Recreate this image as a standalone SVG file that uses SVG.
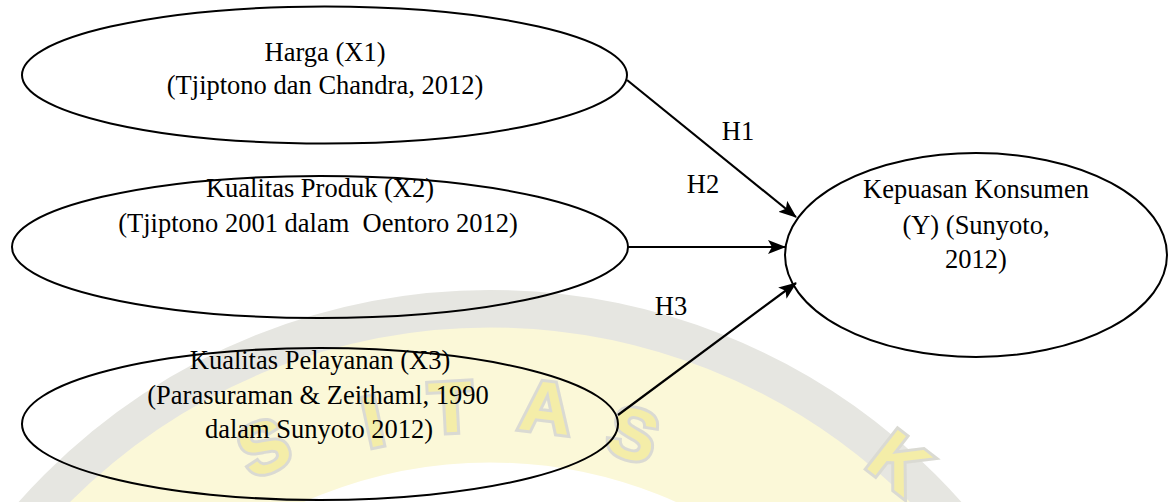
<svg xmlns="http://www.w3.org/2000/svg" width="1172" height="502" viewBox="0 0 1172 502">
  <defs>
    <style>
      .node { fill: none; stroke: #000; stroke-width: 2; }
      .lbl { font-family: "Liberation Serif", "Times New Roman", serif; font-size: 26.5px; fill: #000; text-anchor: middle; white-space: pre; }
      .edge { stroke: #000; stroke-width: 2.2; fill: none; marker-end: url(#arrow); }
      .wm { font-family: "Liberation Sans", Arial, sans-serif; font-weight: bold; font-size: 72px; fill: #f3ea9a; stroke: #d4d4cc; stroke-width: 6; paint-order: stroke; text-anchor: middle; }
    </style>
    <marker id="arrow" markerUnits="userSpaceOnUse" markerWidth="18" markerHeight="14" refX="17" refY="7" orient="auto">
      <path d="M0,0 L18,7 L0,14 L4,7 z" fill="#000"/>
    </marker>
  </defs>

  <g id="watermark" opacity="0.85">
    <circle cx="490" cy="920" r="610" fill="none" stroke="#e2e2dc" stroke-width="40"/>
    <circle cx="490" cy="920" r="525" fill="none" stroke="#fbf7d2" stroke-width="135"/>
    <text class="wm" transform="translate(274,470) rotate(-24)">S</text>
    <text class="wm" transform="translate(378,446) rotate(-12)">I</text>
    <text class="wm" transform="translate(452,432) rotate(-3)">T</text>
    <text class="wm" transform="translate(543,432) rotate(7)">A</text>
    <text class="wm" transform="translate(626,458) rotate(17)">S</text>
    <text class="wm" transform="translate(884,482) rotate(38)">K</text>
  </g>

  <g id="connectors">
    <line class="edge" x1="627" y1="80" x2="796" y2="217"/>
    <line class="edge" x1="628" y1="247" x2="785" y2="247"/>
    <line class="edge" x1="618" y1="415" x2="796" y2="283"/>
    <text class="lbl" x="738" y="140">H1</text>
    <text class="lbl" x="703" y="193">H2</text>
    <text class="lbl" x="671" y="315">H3</text>
  </g>

  <g id="node-x1">
    <ellipse class="node" cx="324.5" cy="75" rx="302.5" ry="68.5"/>
    <text class="lbl" x="325" y="61">Harga (X1)</text>
    <text class="lbl" x="325" y="94">(Tjiptono dan Chandra, 2012)</text>
  </g>

  <g id="node-x2">
    <ellipse class="node" cx="320" cy="247" rx="308" ry="71"/>
    <text class="lbl" x="320" y="197">Kualitas Produk (X2)</text>
    <text class="lbl" x="318" y="232">(Tjiptono 2001 dalam  Oentoro 2012)</text>
  </g>

  <g id="node-x3">
    <ellipse class="node" cx="320" cy="424" rx="298" ry="76"/>
    <text class="lbl" x="320" y="369">Kualitas Pelayanan (X3)</text>
    <text class="lbl" x="318" y="404">(Parasuraman &amp; Zeithaml, 1990</text>
    <text class="lbl" x="319" y="438">dalam Sunyoto 2012)</text>
  </g>

  <g id="node-y">
    <ellipse class="node" cx="976" cy="255" rx="191" ry="102"/>
    <text class="lbl" x="976" y="198">Kepuasan Konsumen</text>
    <text class="lbl" x="976" y="234">(Y) (Sunyoto,</text>
    <text class="lbl" x="976" y="268">2012)</text>
  </g>
</svg>
